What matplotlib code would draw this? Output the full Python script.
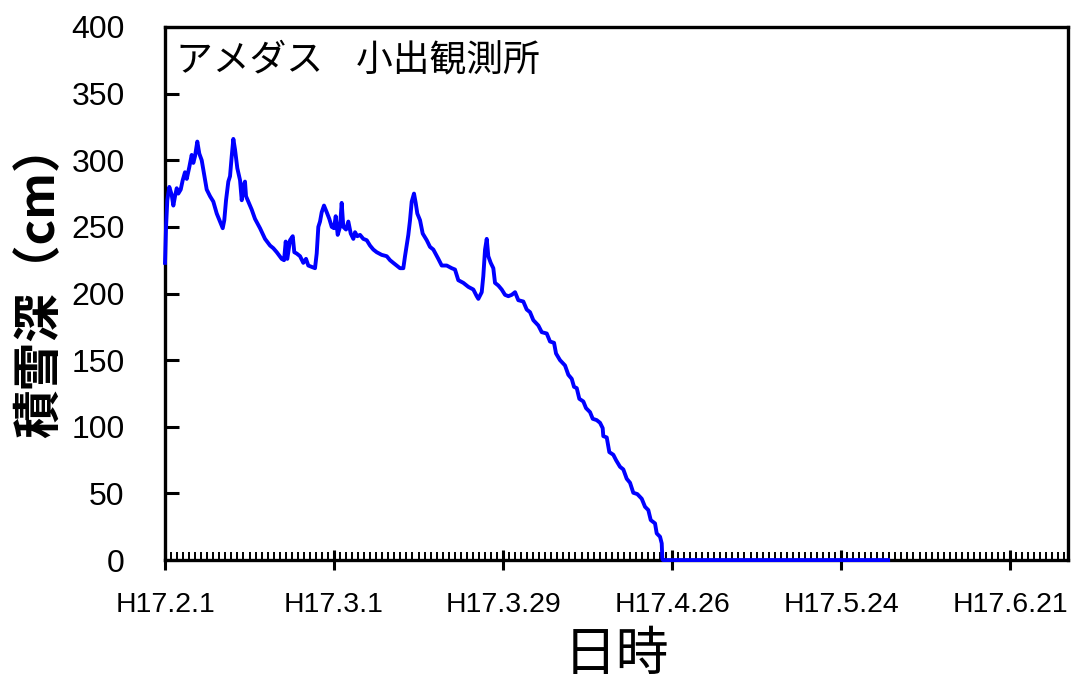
import matplotlib
matplotlib.use("Agg")
import matplotlib.pyplot as plt
from matplotlib.ticker import FixedLocator, MultipleLocator

# days since H17.2.1 and snow depth (cm)
days = [0.0, 0.17, 0.38, 0.71, 1.11, 1.38, 1.66, 1.94, 2.20, 2.60, 2.93,
        3.31, 3.60, 4.03, 4.42, 4.69, 4.97, 5.35, 5.68, 6.08, 6.35, 6.91,
        7.46, 8.00, 8.57, 9.11, 9.56, 9.82, 10.11, 10.49, 10.77, 11.05,
        11.32, 11.60, 11.98, 12.43, 12.71, 12.97, 13.25, 13.42, 13.80,
        14.36, 14.91, 15.74, 16.57, 17.40, 17.94, 18.51, 19.33, 19.72,
        20.00, 20.26, 20.71, 21.16, 21.42, 21.82, 22.37, 22.91, 23.36,
        23.74, 24.30, 24.85, 25.13, 25.40, 25.68, 25.96, 26.34, 26.79,
        27.22, 27.62, 28.00, 28.28, 28.61, 28.99, 29.27, 29.54, 29.99,
        30.37, 30.77, 31.20, 31.48, 31.86, 32.31, 32.85, 33.42, 33.96,
        34.51, 35.07, 35.90, 36.73, 37.28, 37.82, 38.39, 38.93, 39.48,
        39.76, 40.04, 40.31, 40.59, 40.87, 41.25, 41.53, 41.80, 42.25,
        42.69, 43.36, 43.90, 44.45, 45.28, 45.84, 46.67, 47.50, 48.04,
        48.59, 49.42, 50.25, 51.08, 51.64, 51.91, 52.47, 52.73, 53.02,
        53.30, 53.56, 53.96, 54.39, 54.67, 55.22, 55.78, 56.33, 56.88,
        57.44, 57.99, 58.53, 59.36, 59.92, 60.47, 61.02, 61.85, 62.41,
        63.24, 63.78, 64.45, 64.78, 65.44, 66.27, 66.82, 67.38, 67.76,
        68.21, 68.64, 69.30, 69.75, 70.41, 70.86, 71.52, 72.07, 72.51,
        72.61, 73.18, 73.61, 74.27, 74.72, 75.38, 75.93, 76.49, 77.04,
        77.58, 78.25, 78.98, 79.52, 80.07, 80.47, 81.18, 81.46, 82.01,
        82.29, 82.39, 82.50, 119.8]
depth = [223, 250, 270, 280, 274, 266, 273, 279, 275, 278, 285,
         291, 286, 295, 304, 298, 303, 314, 305, 300, 293, 278,
         273, 269, 260, 254, 249, 255, 270, 284, 288, 303,
         316, 308, 294, 285, 270, 281, 284, 273, 269,
         263, 256, 249, 241, 236, 234, 231, 226, 225,
         239, 226, 240, 243, 231, 230, 228, 223, 226,
         221, 220, 219, 230, 250, 254, 261, 266, 261,
         256, 250, 249, 258, 244, 250, 268, 250, 248,
         254, 245, 241, 246, 243, 244, 241, 240, 236,
         233, 231, 229, 228, 225, 223, 221, 219, 219,
         228, 236, 244, 255, 269, 275, 268, 260, 255,
         245, 240, 235, 233, 226, 221, 221, 219, 218,
         210, 208, 205, 203, 198, 196, 201, 213, 233,
         241, 228, 223, 219, 208, 206, 203, 199, 198,
         199, 201, 195, 194, 188, 186, 180, 176, 171,
         170, 164, 163, 155, 150, 146, 139, 136, 130,
         129, 121, 119, 114, 111, 106, 105, 103, 99,
         93, 92, 81, 79, 75, 70, 68, 61, 58,
         50.5, 49.5, 46, 40, 37.5, 30, 27.5, 20, 17.5,
         12.5, 1, 0, 0]

tick_days = [0, 28, 56, 84, 112, 140]
tick_labels = ["H17.2.1", "H17.3.1", "H17.3.29", "H17.4.26", "H17.5.24", "H17.6.21"]

plt.rcParams['font.family'] = ['Liberation Sans', 'Noto Sans CJK JP', 'DejaVu Sans']
cjk = ['Noto Sans CJK JP', 'DejaVu Sans']

fig = plt.figure(figsize=(10.75, 6.83), dpi=100)
ax = fig.add_axes([0.1535, 0.18, 0.84, 0.7805])

ax.plot(days, depth, color='#0000ff', linewidth=2.8, zorder=3,
        clip_on=False)

ax.set_xlim(0, 149.6)
ax.set_ylim(0, 400)

ax.xaxis.set_major_locator(FixedLocator(tick_days))
ax.set_xticklabels(tick_labels)
ax.xaxis.set_minor_locator(MultipleLocator(1))
ax.yaxis.set_major_locator(MultipleLocator(50))

ax.tick_params(axis='x', which='major', direction='inout', length=14,
               width=2.2, labelsize=20.5, pad=16)
ax.tick_params(axis='x', which='minor', direction='in', length=6, width=1.4)
ax.tick_params(axis='y', which='major', direction='in', length=10,
               width=2.2, labelsize=23, pad=29)

for s in ax.spines.values():
    s.set_linewidth(2.4)

ax.text(0.012, 0.975, 'アメダス    小出観測所', transform=ax.transAxes,
        ha='left', va='top', fontsize=26.5, family=cjk)

ax.set_ylabel('積雪深（cm）', fontsize=35, family=cjk, fontweight='bold')
ax.set_xlabel('日時', fontsize=38, family=cjk)
ax.yaxis.set_label_coords(-0.112, 0.525)
ax.xaxis.set_label_coords(0.5, -0.125)

fig.savefig('out.png', dpi=100)
